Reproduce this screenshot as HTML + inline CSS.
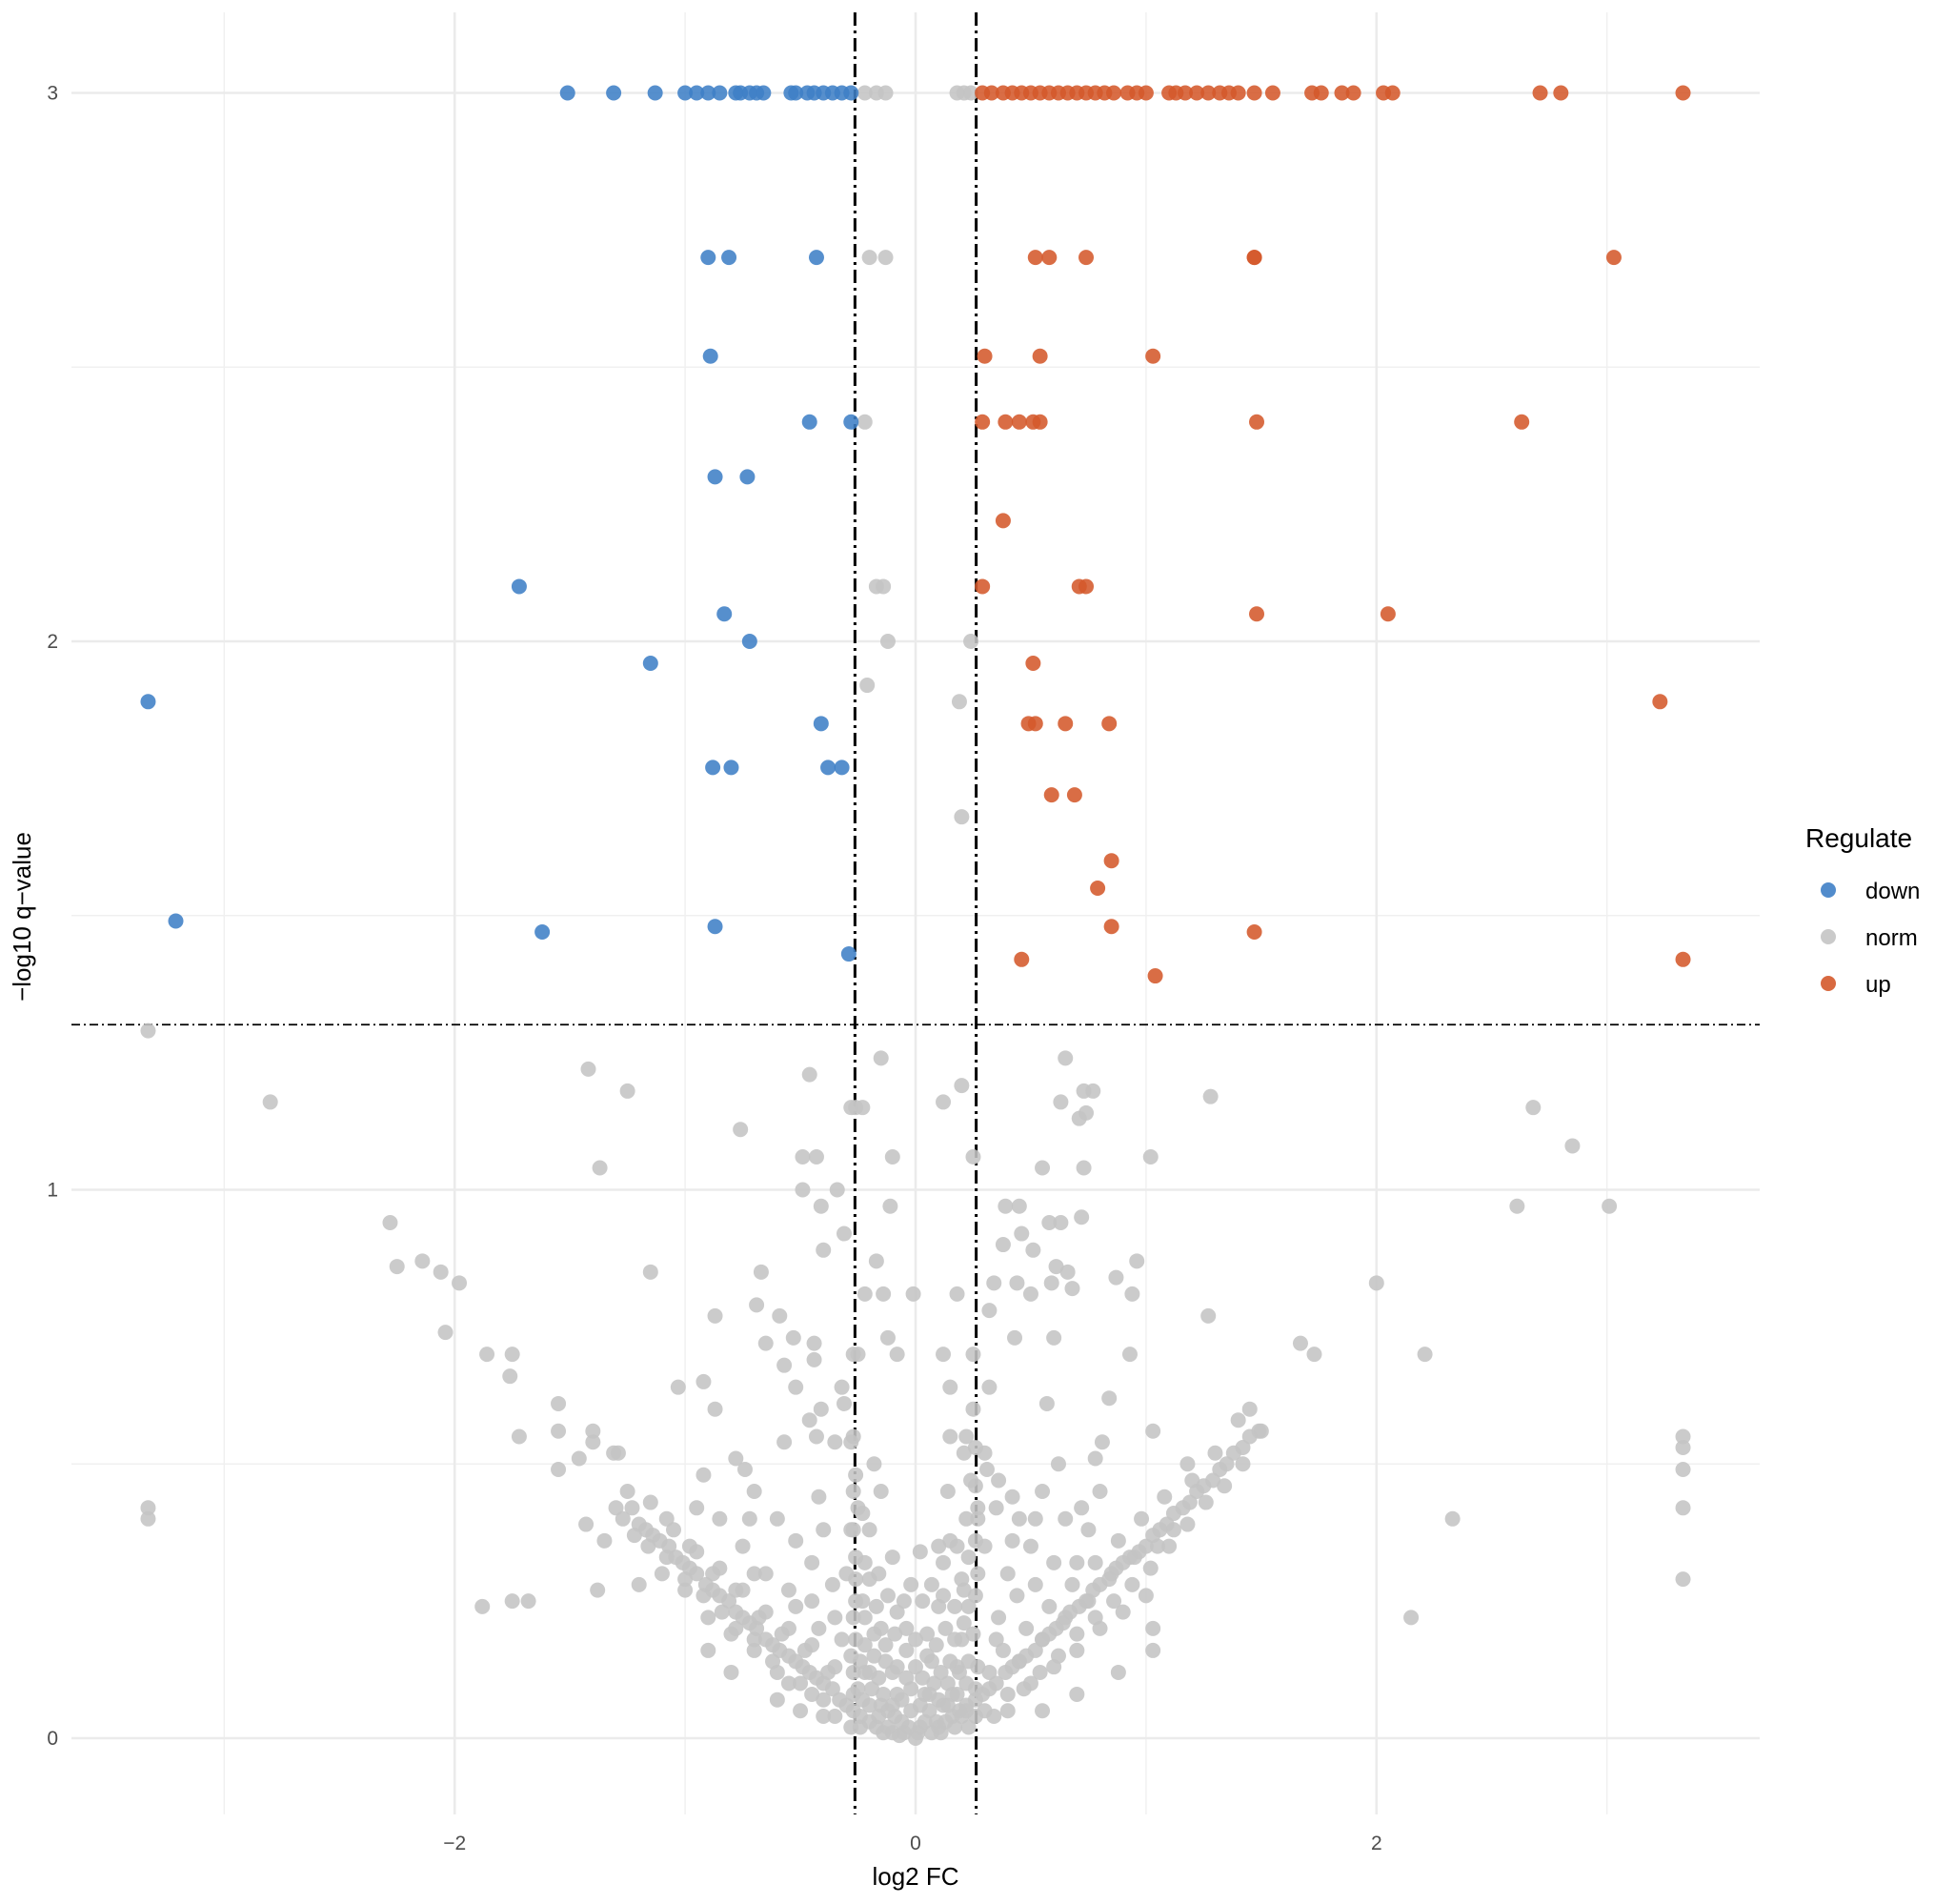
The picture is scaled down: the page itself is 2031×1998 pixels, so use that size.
<!DOCTYPE html>
<html><head><meta charset="utf-8"><style>
html,body{margin:0;padding:0;background:#fff;}
svg{display:block;font-family:"Liberation Sans",Arial,sans-serif;}
</style></head><body>
<svg id="chart" width="2031" height="1998" viewBox="0 0 2031 1998" xmlns="http://www.w3.org/2000/svg">
<g id="grid"></g>
<g id="thresholds"></g>
<g id="points"></g>
<g id="axes"></g>
<text x="961" y="1978" font-size="26" text-anchor="middle" fill="#000">log2 FC</text>
<text transform="translate(32,962) rotate(-90)" font-size="26" text-anchor="middle" fill="#000">−log10 q−value</text>
<g>
<text x="1895" y="889" font-size="28" fill="#000">Regulate</text>
<circle cx="1919" cy="934" r="8" fill="#3f7fc6" opacity="0.9"/>
<text x="1958" y="943" font-size="24" fill="#000">down</text>
<circle cx="1919" cy="983" r="8" fill="#c4c4c4" opacity="0.9"/>
<text x="1958" y="992" font-size="24" fill="#000">norm</text>
<circle cx="1919" cy="1032" r="8" fill="#d4592b" opacity="0.9"/>
<text x="1958" y="1041" font-size="24" fill="#000">up</text>
</g>
</svg>
<script>
const xTicks = [-2, 0, 2];
const xMinor = [-3, -1, 1, 3];
const yTicks = [0, 1, 2, 3];
const yMinor = [0.5, 1.5, 2.5];
const fcCut = 0.263;
const qCut = 1.301;
const downPts = [[-1.51,3],[-1.31,3],[-1.13,3],[-1.00,3],[-0.95,3],[-0.90,3],[-0.85,3],[-0.78,3],[-0.76,3],[-0.72,3],[-0.69,3],[-0.66,3],[-0.54,3],[-0.52,3],[-0.47,3],[-0.44,3],[-0.40,3],[-0.36,3],[-0.32,3],[-0.28,3],
[-0.90,2.70],[-0.81,2.70],[-0.43,2.70],[-0.89,2.52],[-0.46,2.40],[-0.28,2.40],[-0.87,2.30],[-0.73,2.30],[-1.72,2.10],[-0.83,2.05],[-0.72,2.0],[-1.15,1.96],[-3.33,1.89],[-0.41,1.85],[-0.88,1.77],[-0.80,1.77],[-0.38,1.77],[-0.32,1.77],[-3.21,1.49],[-1.62,1.47],[-0.87,1.48],[-0.29,1.43]];
const upPts = [[0.29,3],[0.33,3],[0.38,3],[0.42,3],[0.46,3],[0.5,3],[0.54,3],[0.58,3],[0.62,3],[0.66,3],[0.70,3],[0.74,3],[0.78,3],[0.82,3],[0.86,3],[0.92,3],[0.96,3],[1.0,3],[1.1,3],[1.13,3],[1.17,3],[1.22,3],[1.27,3],[1.32,3],[1.36,3],[1.4,3],[1.47,3],[1.55,3],[1.72,3],[1.76,3],[1.85,3],[1.9,3],[2.03,3],[2.07,3],[2.71,3],[2.8,3],[3.33,3],
[0.52,2.70],[0.58,2.70],[0.74,2.70],[1.47,2.70],[1.47,2.70],[3.03,2.70],[0.30,2.52],[0.54,2.52],[1.03,2.52],[0.29,2.40],[0.39,2.40],[0.45,2.40],[0.51,2.40],[0.54,2.40],[1.48,2.40],[2.63,2.40],[0.38,2.22],[0.29,2.10],[0.71,2.10],[0.74,2.10],[1.48,2.05],[2.05,2.05],[0.51,1.96],[3.23,1.89],[0.49,1.85],[0.52,1.85],[0.65,1.85],[0.84,1.85],[0.59,1.72],[0.69,1.72],[0.85,1.60],[0.79,1.55],[0.85,1.48],[1.47,1.47],[0.46,1.42],[3.33,1.42],[1.04,1.39]];
const normPts = [[-0.22,3],[-0.17,3],[-0.13,3],[0.18,3],[0.21,3],[0.24,3],[-0.20,2.70],[-0.13,2.70],[-0.22,2.40],[-0.17,2.10],[-0.14,2.10],[-0.12,2.0],[0.24,2.0],[-0.21,1.92],[0.19,1.89],[0.20,1.68],
[-3.33,1.29],[-2.80,1.16],[-1.42,1.22],[-1.25,1.18],[-1.37,1.04],[-0.76,1.11],[-0.46,1.21],[-0.15,1.24],[-0.28,1.15],[-0.26,1.15],[-0.23,1.15],[-0.10,1.06],[-0.49,1.06],[-0.43,1.06],[0.12,1.16],[0.20,1.19],[0.25,1.06],[0.65,1.24],[0.73,1.18],[0.77,1.18],[0.63,1.16],[0.74,1.14],[0.71,1.13],[0.55,1.04],[0.73,1.04],[1.02,1.06],[1.28,1.17],[2.68,1.15],[2.85,1.08],[2.61,0.97],[3.01,0.97],[2.0,0.83],[2.21,0.70],[1.67,0.72],[1.73,0.70],[2.33,0.40],[2.15,0.22],[3.33,0.55],[3.33,0.53],[3.33,0.49],[3.33,0.42],[3.33,0.29],[-3.33,0.42],[-3.33,0.40],
[-2.28,0.94],[-2.25,0.86],[-2.14,0.87],[-2.06,0.85],[-1.98,0.83],[-2.04,0.74],[-1.88,0.24],[-1.75,0.25],[-1.68,0.25],[-1.86,0.70],[-1.75,0.70],[-1.76,0.66],[-1.72,0.55],[-1.55,0.61],[-1.55,0.56],[-1.55,0.49],[-1.40,0.56],[-1.40,0.54],[-1.46,0.51],[-1.38,0.27],[-1.31,0.52],[-1.29,0.52],[-1.15,0.85],[-1.03,0.64],[-0.92,0.65],[-0.87,0.60],[-0.92,0.48],[-0.87,0.77],[-0.67,0.85],[-0.69,0.79],[-0.59,0.77],[-0.41,0.97],[-0.49,1.0],[-0.34,1.0],[-0.40,0.89],[-0.31,0.92],[-0.11,0.97],[-0.17,0.87],[-0.22,0.81],[-0.14,0.81],[-0.27,0.70],[-0.12,0.73],
[0.39,0.97],[0.45,0.97],[0.46,0.92],[0.58,0.94],[0.63,0.94],[0.72,0.95],[0.38,0.90],[0.51,0.89],[0.61,0.86],[0.66,0.85],[0.34,0.83],[0.44,0.83],[0.50,0.81],[0.59,0.83],[0.68,0.82],[0.87,0.84],[0.96,0.87],[0.94,0.81],[0.18,0.81],[0.32,0.78],[1.27,0.77],[0.43,0.73],[0.60,0.73],[0.32,0.64],[0.57,0.61],[0.93,0.70],[0.84,0.62],[1.03,0.56],[0.81,0.54],[0.78,0.51],[0.12,0.70],[0.15,0.64],[-0.01,0.81],[-0.08,0.70],[-0.18,0.50],[-0.46,0.58],[-0.43,0.55],[-0.57,0.54],[-0.52,0.64],[-0.78,0.51],[-0.74,0.49],[-0.65,0.72],[-0.53,0.73],[-0.44,0.72],[-0.57,0.68],[-0.44,0.69],[-0.41,0.60],[-0.32,0.64],[-0.31,0.61],[-0.35,0.54],[-0.28,0.54],
[-1.30,0.42],[-1.23,0.42],[-1.17,0.38],[-1.11,0.36],[-1.04,0.33],[-0.98,0.31],[-0.91,0.28],[-0.85,0.26],[-0.78,0.23],[-0.72,0.21],[-0.65,0.18],[-0.59,0.16],[-0.52,0.14],[-0.46,0.12],[-0.40,0.10],[-0.33,0.07],[-0.27,0.05],[-0.20,0.03],[-0.14,0.01],[-0.07,0.005],
[-1.27,0.40],[-1.20,0.39],[-1.14,0.37],[-1.07,0.35],[-1.01,0.32],[-0.95,0.30],[-0.88,0.27],[-0.81,0.25],[-0.75,0.22],[-0.69,0.20],[-0.62,0.17],[-0.55,0.15],[-0.49,0.13],[-0.43,0.11],[-0.36,0.09],[-0.30,0.06],[-0.24,0.04],[-0.17,0.02],[-0.10,0.01],
[-1.25,0.45],[-1.15,0.43],[-1.05,0.38],[-0.95,0.34],[-0.85,0.31],[-0.75,0.27],[-0.65,0.23],[-0.55,0.20],[-0.45,0.17],[-0.35,0.13],[-0.25,0.09],[-0.15,0.06],[-1.10,0.30],[-1.0,0.27],[-0.9,0.22],[-0.8,0.19],[-0.7,0.16],[-0.6,0.12],[-0.5,0.10],[-0.4,0.07],[-0.35,0.04],[-0.6,0.07],[-0.5,0.05],[-0.8,0.12],[-0.9,0.16],[-1.2,0.28],[-1.35,0.36],[-1.43,0.39],[-0.95,0.42],[-0.85,0.40],[-0.75,0.35],[-0.65,0.30],[-0.55,0.27],[-0.45,0.25],[-0.35,0.22],[-0.30,0.30],[-0.28,0.38],[-0.27,0.45],[-0.45,0.32],[-0.4,0.38],[-0.6,0.40],[-0.7,0.45],
[0.10,0.02],[0.16,0.04],[0.22,0.06],[0.29,0.08],[0.35,0.10],[0.42,0.13],[0.48,0.15],[0.55,0.18],[0.61,0.20],[0.67,0.23],[0.74,0.25],[0.80,0.28],[0.87,0.31],[0.93,0.33],[1.0,0.35],[1.06,0.38],[1.12,0.41],[1.19,0.43],[1.25,0.46],[1.32,0.49],[1.38,0.52],[1.45,0.55],[1.49,0.56],
[0.13,0.03],[0.19,0.05],[0.26,0.07],[0.32,0.09],[0.39,0.12],[0.45,0.14],[0.52,0.16],[0.58,0.19],[0.64,0.21],[0.71,0.24],[0.77,0.27],[0.84,0.29],[0.90,0.32],[0.97,0.34],[1.03,0.37],[1.09,0.39],[1.16,0.42],[1.22,0.45],[1.29,0.47],[1.35,0.50],[1.42,0.53],
[0.3,0.05],[0.4,0.08],[0.5,0.10],[0.6,0.13],[0.7,0.16],[0.8,0.20],[0.9,0.23],[1.0,0.26],[0.45,0.14],[0.55,0.18],[0.65,0.22],[0.75,0.25],[0.85,0.30],[0.95,0.33],[1.05,0.35],[1.03,0.20],[1.03,0.16],[0.88,0.12],[0.70,0.08],[0.55,0.05],[1.12,0.38],[1.2,0.47],[1.3,0.52],[1.4,0.58],[1.45,0.60],[1.5,0.56],[0.35,0.18],[0.4,0.30],[0.45,0.40],[0.35,0.42],[0.5,0.35],[0.6,0.32],[0.55,0.45],[0.65,0.40],[0.75,0.38],[0.62,0.50],[0.8,0.45],[0.3,0.35],[0.3,0.52],
[-0.26,0.25],[-0.26,0.33],[-0.25,0.42],[-0.28,0.15],[-0.22,0.12],[-0.18,0.15],[-0.12,0.05],[-0.06,0.03],[0,0.0],[0.07,0.01],[0.12,0.06],[0.18,0.13],[0.23,0.24],[0.26,0.36],[0.27,0.42],[0.2,0.29],[0.15,0.36],[0.1,0.24],[0.04,0.08],[-0.04,0.16],[-0.15,0.20],[-0.2,0.29],[0.22,0.55],[0.26,0.53],[0.31,0.49],[0.36,0.47],[0.42,0.44],[0.15,0.55],[0.1,0.35],[0.2,0.18],[-0.1,0.12],[-0.2,0.38],[-0.15,0.45],[0.05,0.15],[0.14,0.45],[0.24,0.47],[-0.05,0.25],[-0.02,0.05],[0.02,0.02],[-0.08,0.08],[0.08,0.10],[0.16,0.08],[-0.22,0.22],[0.22,0.05],[0.27,0.30],[-0.27,0.55],[-0.25,0.70],[0.25,0.60],[0.25,0.70]];
const normCore = [[-0.28,0.02],[-0.24,0.02],[-0.20,0.06],[-0.16,0.04],[-0.12,0.02],[-0.09,0.04],[-0.05,0.01],[-0.03,0.02],[0.01,0.01],[0.04,0.03],[0.06,0.05],[0.09,0.03],[0.11,0.01],[0.14,0.06],[0.17,0.02],[0.20,0.04],[0.23,0.02],[0.26,0.04],
[-0.27,0.08],[-0.23,0.07],[-0.19,0.09],[-0.14,0.08],[-0.10,0.06],[-0.06,0.07],[-0.02,0.09],[0.02,0.06],[0.06,0.08],[0.10,0.07],[0.14,0.10],[0.18,0.08],[0.22,0.10],[0.26,0.09],
[-0.27,0.12],[-0.24,0.14],[-0.20,0.12],[-0.16,0.11],[-0.13,0.14],[-0.08,0.13],[-0.04,0.11],[0.00,0.13],[0.03,0.11],[0.07,0.14],[0.11,0.12],[0.15,0.14],[0.19,0.12],[0.23,0.14],[0.27,0.13],
[-0.26,0.18],[-0.22,0.17],[-0.18,0.19],[-0.13,0.17],[-0.09,0.19],[-0.04,0.20],[0.00,0.18],[0.05,0.19],[0.09,0.17],[0.13,0.20],[0.17,0.18],[0.21,0.21],[0.25,0.19],
[-0.27,0.22],[-0.23,0.25],[-0.17,0.24],[-0.12,0.26],[-0.08,0.23],[-0.02,0.28],[0.03,0.25],[0.07,0.28],[0.12,0.26],[0.17,0.24],[0.21,0.27],[0.26,0.26],
[-0.26,0.29],[-0.22,0.32],[-0.16,0.30],[-0.10,0.33],[0.02,0.34],[0.12,0.32],[0.18,0.35],[0.23,0.33],[0.27,0.40],[-0.27,0.38],[-0.23,0.41],[0.22,0.40],[0.26,0.46],[-0.26,0.48],[0.21,0.52],
[-0.40,0.04],[-0.45,0.08],[-0.55,0.10],[-0.62,0.14],[-0.70,0.18],[-0.78,0.20],[-0.84,0.23],[-0.92,0.26],[-1.00,0.29],[-1.08,0.33],[-1.16,0.35],[-1.22,0.37],[-0.38,0.12],[-0.48,0.16],[-0.58,0.19],[-0.68,0.22],[-0.78,0.27],[-0.88,0.30],[-0.98,0.35],[-1.08,0.40],
[0.34,0.04],[0.40,0.05],[0.47,0.09],[0.54,0.12],[0.62,0.15],[0.70,0.19],[0.78,0.22],[0.86,0.25],[0.94,0.28],[1.02,0.31],[1.10,0.35],[1.18,0.39],[1.26,0.43],[1.34,0.46],[1.42,0.50],[0.38,0.16],[0.48,0.20],[0.58,0.24],[0.68,0.28],[0.78,0.32],[0.88,0.36],[0.98,0.40],[1.08,0.44],[1.18,0.50],
[0.32,0.12],[0.36,0.22],[0.44,0.26],[0.52,0.28],[0.42,0.36],[0.52,0.40],[0.70,0.32],[0.72,0.42],[-0.32,0.18],[-0.36,0.28],[-0.42,0.20],[-0.52,0.24],[-0.42,0.44],[-0.52,0.36],[-0.70,0.30],[-0.72,0.40]];

const NS = 'http://www.w3.org/2000/svg';
const P = {l: 75, r: 1847, t: 13, b: 1904};
const X0 = 961, XU = 241.9, Y0 = 1824, YU = 575.5;
function sx(v){ return X0 + v * XU; }
function sy(v){ return Y0 - v * YU; }
function mk(tag, attrs, parent){
  const e = document.createElementNS(NS, tag);
  for (const k in attrs) e.setAttribute(k, attrs[k]);
  parent.appendChild(e);
  return e;
}
const grid = document.getElementById('grid');
const axes = document.getElementById('axes');
xMinor.forEach(v => {
  const l = mk('line', {x1: sx(v), x2: sx(v), y1: P.t, y2: P.b, stroke: '#f0f0f0', 'stroke-width': 1.4}, grid);
  
  
});
yMinor.forEach(v => {
  const l = mk('line', {x1: P.l, x2: P.r, y1: sy(v), y2: sy(v), stroke: '#f0f0f0', 'stroke-width': 1.4}, grid);
  
  
});
xTicks.forEach(v => {
  const l = mk('line', {x1: sx(v), x2: sx(v), y1: P.t, y2: P.b, stroke: '#ebebeb', 'stroke-width': 2.6}, grid);
  
  
  const t = mk('text', {x: sx(v), y: 1941, 'font-size': 21, 'text-anchor': 'middle', fill: '#4d4d4d'}, axes);
  t.textContent = v < 0 ? '−' + Math.abs(v) : String(v);
  
  
});
yTicks.forEach(v => {
  const l = mk('line', {x1: P.l, x2: P.r, y1: sy(v), y2: sy(v), stroke: '#ebebeb', 'stroke-width': 2.6}, grid);
  
  
  const t = mk('text', {x: 61, y: sy(v) + 7, 'font-size': 21, 'text-anchor': 'end', fill: '#4d4d4d'}, axes);
  t.textContent = String(v);
  
  
});
const pts = document.getElementById('points');
function drawSet(arr, color, name){
  arr.forEach(p => {
    const c = mk('circle', {cx: sx(p[0]), cy: sy(p[1]), r: 8, fill: color, 'fill-opacity': 0.88}, pts);
    
    
  });
}
drawSet(normPts, '#c4c4c4', 'point-norm');
drawSet(normCore, '#c4c4c4', 'point-norm');
drawSet(downPts, '#3f7fc6', 'point-down');
drawSet(upPts, '#d4592b', 'point-up');
const th = document.getElementById('thresholds');
[-fcCut, fcCut].forEach(v => {
  const l = mk('line', {x1: sx(v), x2: sx(v), y1: P.t, y2: P.b, stroke: '#000', 'stroke-width': 3, 'stroke-dasharray': '14 5 3 5'}, th);
  
  
});
const hl = mk('line', {x1: P.l, x2: P.r, y1: sy(qCut), y2: sy(qCut), stroke: '#000', 'stroke-width': 1.8, 'stroke-dasharray': '9 4 2 4'}, th);


</script>
</body></html>
